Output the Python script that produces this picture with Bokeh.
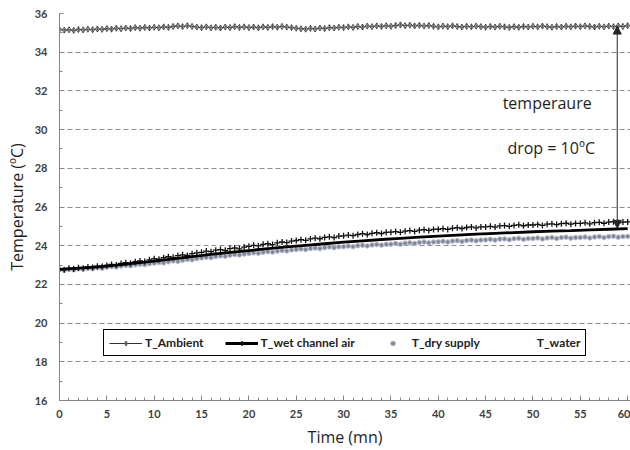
from bokeh.plotting import figure
from bokeh.models import Range1d, FixedTicker, Legend, LegendItem, Arrow, NormalHead, Label
from bokeh.embed import file_html
from bokeh.resources import INLINE

# ---------------- data ----------------
SAMPLE_STEP_MIN = 0.5   # measurement interval of the marker series
LINE_STEP_MIN = 2       # interval of the plotted wet-channel line

t_ambient = [
    35.18, 35.14, 35.16, 35.13, 35.17, 35.15, 35.19, 35.16, 35.20, 35.18,
    35.22, 35.19, 35.24, 35.21, 35.25, 35.22, 35.27, 35.24, 35.28, 35.25,
    35.29, 35.26, 35.31, 35.28, 35.33, 35.36, 35.32, 35.37, 35.33, 35.30,
    35.27, 35.31, 35.26, 35.29, 35.25, 35.30, 35.27, 35.32, 35.28, 35.31,
    35.27, 35.30, 35.26, 35.31, 35.28, 35.32, 35.29, 35.33, 35.30, 35.27,
    35.24, 35.21, 35.19, 35.23, 35.20, 35.25, 35.22, 35.27, 35.25, 35.29,
    35.27, 35.31, 35.28, 35.33, 35.30, 35.35, 35.32, 35.36, 35.33, 35.37,
    35.34, 35.38, 35.41, 35.37, 35.40, 35.36, 35.39, 35.35, 35.38, 35.34,
    35.31, 35.35, 35.32, 35.36, 35.33, 35.30, 35.34, 35.31, 35.35, 35.32,
    35.29, 35.33, 35.30, 35.34, 35.31, 35.28, 35.32, 35.29, 35.33, 35.30,
    35.34, 35.31, 35.35, 35.32, 35.29, 35.33, 35.30, 35.34, 35.31, 35.35,
    35.32, 35.36, 35.33, 35.30, 35.34, 35.31, 35.35, 35.32, 35.36, 35.33,
    35.37,
]

t_wet_channel_air = [
    22.80, 22.76, 22.83, 22.79, 22.86, 22.84, 22.90, 22.87, 22.94, 22.92,
    22.98, 23.03, 23.00, 23.08, 23.12, 23.09, 23.17, 23.21, 23.18, 23.27,
    23.33, 23.30, 23.38, 23.43, 23.40, 23.49, 23.53, 23.50, 23.59, 23.63,
    23.66, 23.72, 23.69, 23.77, 23.80, 23.76, 23.85, 23.88, 23.84, 23.93,
    23.97, 24.02, 23.99, 24.07, 24.10, 24.06, 24.15, 24.19, 24.16, 24.24,
    24.27, 24.31, 24.28, 24.35, 24.39, 24.36, 24.43, 24.46, 24.42, 24.50,
    24.51, 24.55, 24.52, 24.58, 24.62, 24.58, 24.64, 24.67, 24.63, 24.69,
    24.70, 24.73, 24.69, 24.75, 24.78, 24.74, 24.80, 24.83, 24.79, 24.84,
    24.85, 24.88, 24.84, 24.90, 24.93, 24.89, 24.94, 24.97, 24.92, 24.97,
    24.97, 25.00, 24.96, 25.02, 25.04, 25.00, 25.05, 25.08, 25.03, 25.07,
    25.07, 25.10, 25.05, 25.11, 25.13, 25.09, 25.14, 25.16, 25.11, 25.15,
    25.15, 25.18, 25.13, 25.19, 25.21, 25.16, 25.22, 25.24, 25.18, 25.22,
    25.23,
]

t_dry_supply = [
    22.76, 22.73, 22.78, 22.75, 22.80, 22.78, 22.83, 22.81, 22.86, 22.84,
    22.89, 22.92, 22.90, 22.95, 22.98, 22.96, 23.01, 23.04, 23.02, 23.07,
    23.10, 23.13, 23.11, 23.17, 23.21, 23.19, 23.25, 23.29, 23.27, 23.33,
    23.37, 23.40, 23.38, 23.44, 23.47, 23.45, 23.51, 23.54, 23.52, 23.57,
    23.60, 23.63, 23.61, 23.66, 23.69, 23.67, 23.72, 23.75, 23.73, 23.78,
    23.80, 23.83, 23.80, 23.85, 23.88, 23.85, 23.90, 23.93, 23.90, 23.94,
    23.95, 23.98, 23.95, 24.00, 24.02, 23.99, 24.04, 24.06, 24.03, 24.07,
    24.08, 24.11, 24.08, 24.13, 24.15, 24.12, 24.17, 24.19, 24.15, 24.19,
    24.20, 24.23, 24.19, 24.24, 24.26, 24.22, 24.27, 24.29, 24.25, 24.29,
    24.30, 24.33, 24.29, 24.34, 24.35, 24.31, 24.36, 24.38, 24.33, 24.37,
    24.37, 24.40, 24.35, 24.40, 24.42, 24.37, 24.42, 24.44, 24.39, 24.42,
    24.42, 24.45, 24.40, 24.45, 24.47, 24.42, 24.47, 24.49, 24.44, 24.47,
    24.48,
]

wet_channel_line = [
    22.78, 22.84, 22.91, 23.00, 23.10, 23.20, 23.32, 23.44, 23.55, 23.65,
    23.75, 23.85, 23.94, 24.02, 24.10, 24.18, 24.25, 24.32, 24.38, 24.44,
    24.50, 24.55, 24.60, 24.64, 24.68, 24.72, 24.75, 24.78, 24.82, 24.85,
    24.88,
]

y_ticks = [16, 18, 20, 22, 24, 26, 28, 30, 32, 34, 36]
x_ticks = [0, 5, 10, 15, 20, 25, 30, 35, 40, 45, 50, 55, 60]

series_names = ["T_Ambient", "T_wet channel air", "T_dry supply", "T_water"]

time = [i * SAMPLE_STEP_MIN for i in range(len(t_ambient))]
line_time = [i * LINE_STEP_MIN for i in range(len(wet_channel_line))]

# ---------------- figure ----------------
TICK_FONT = "Lato"
TEXT_FONT = "Open Sans"
p = figure(width=630, height=450, output_backend="svg", toolbar_location=None,
           x_range=Range1d(0, 60.3), y_range=Range1d(16, 36),
           min_border_left=59, min_border_right=0, min_border_top=13,
           min_border_bottom=50)
p.outline_line_color = None
p.background_fill_color = "white"

# grid
p.xgrid.visible = False
p.ygrid.ticker = FixedTicker(ticks=y_ticks)
p.ygrid.grid_line_color = "#8c8c8c"
p.ygrid.grid_line_dash = "5 3"
p.ygrid.grid_line_width = 1

# axes
p.yaxis.ticker = FixedTicker(ticks=y_ticks, minor_ticks=[v + 1 for v in y_ticks[:-1]])
p.xaxis.ticker = FixedTicker(ticks=x_ticks, minor_ticks=list(range(0, 61)))
for ax in (p.xaxis[0], p.yaxis[0]):
    ax.axis_line_color = "#868686"
    ax.major_tick_line_color = "#868686"
    ax.minor_tick_line_color = "#868686"
    ax.major_tick_out = 0
    ax.minor_tick_out = 0
    ax.major_label_text_font = TICK_FONT
    ax.major_label_text_font_size = "11px"
    ax.major_label_text_font_style = "bold"
    ax.major_label_text_color = "#404040"
    ax.axis_label_text_font = TEXT_FONT
    ax.axis_label_text_font_size = "16px"
    ax.axis_label_text_font_style = "normal"
    ax.axis_label_text_color = "#1e1e1e"

p.yaxis.major_tick_in = 4
p.yaxis.minor_tick_in = 3
p.xaxis.major_tick_in = 5
p.xaxis.minor_tick_in = 3
p.yaxis.major_label_standoff = 12
p.xaxis.major_label_standoff = 9
p.yaxis.axis_label = "Temperature (ºC)"
p.xaxis.axis_label = "Time (mn)"
p.yaxis.axis_label_standoff = 4
p.xaxis.axis_label_standoff = 5

# ---------------- glyphs ----------------
r_dry = p.scatter(time, t_dry_supply, marker="circle", size=4.5,
                  fill_color="#7f8799", line_color="#b9bdcb", line_width=1)
r_wet_pts = p.scatter(time, t_wet_channel_air, marker="cross", size=6,
                      line_color="#111111", line_width=1.3)
r_wet_line = p.line(line_time, wet_channel_line, line_color="#000000", line_width=2.8)
r_amb_line = p.line(time, t_ambient, line_color="#333333", line_width=1)
r_amb_pts = p.scatter(time, t_ambient, marker="diamond_cross", size=6,
                      line_color="#3a3a3a", fill_color="white", line_width=0.8)
r_water = p.line(x=[], y=[], line_alpha=0)

# ---------------- annotation ----------------
head_kw = dict(size=8, fill_color="#262626", line_color="#262626")
p.add_layout(Arrow(start=NormalHead(**head_kw), end=NormalHead(**head_kw),
                   x_start=58.9, y_start=24.9, x_end=58.9, y_end=35.35,
                   line_color="#262626", line_width=1))
p.add_layout(Label(x=46.8, y=31.35, text="temperaure", text_align="left",
                   text_baseline="middle", text_font=TEXT_FONT, text_font_size="16px",
                   text_color="#1e1e1e"))
p.add_layout(Label(x=47.3, y=29.07, text="drop = 10ºC", text_align="left",
                   text_baseline="middle", text_font=TEXT_FONT, text_font_size="16px",
                   text_color="#1e1e1e"))

# ---------------- legend ----------------
legend = Legend(items=[
    LegendItem(label=series_names[0], renderers=[r_amb_line, r_amb_pts]),
    LegendItem(label=series_names[1], renderers=[r_wet_line, r_wet_pts]),
    LegendItem(label=series_names[2], renderers=[r_dry]),
    LegendItem(label=series_names[3], renderers=[r_water]),
], orientation="horizontal", location=(44, 44))
legend.border_line_color = "black"
legend.border_line_width = 1
legend.border_line_alpha = 1
legend.background_fill_color = "white"
legend.background_fill_alpha = 1
legend.label_text_font = TICK_FONT
legend.label_text_font_size = "12px"
legend.label_text_font_style = "bold"
legend.label_text_color = "#222222"
legend.glyph_width = 33
legend.glyph_height = 12
legend.label_height = 12
legend.label_standoff = 3
legend.padding = 5
legend.spacing = 21
legend.margin = 0
p.add_layout(legend)

open("out.html", "w").write(file_html(p, INLINE))
